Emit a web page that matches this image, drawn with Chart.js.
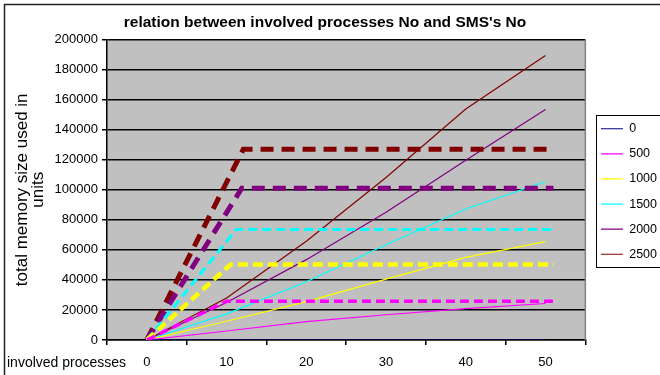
<!DOCTYPE html>
<html>
<head>
<meta charset="utf-8">
<script src="https://cdn.jsdelivr.net/npm/chart.js@4.4.0/dist/chart.umd.min.js"></script>
<style>
  html, body { margin: 0; padding: 0; background: #fff; }
  #wrap { width: 660px; height: 375px; position: relative; }
</style>
</head>
<body>
<div id="wrap"><canvas id="memChart"></canvas></div>
<script>
const processLabels = ['0', '10', '20', '30', '40', '50'];
const smsLabels = ['0', '500', '1000', '1500', '2000', '2500'];
const smsColors = ['#000080', '#ff00ff', '#ffff00', '#00ffff', '#800080', '#800000'];

const mem0 = [0, 0, 0, 0, 0, 0];
const mem500 = [0, 6000, 12200, 16800, 20900, 24300];
const mem1000 = [0, 12500, 25600, 40500, 55000, 65500];
const mem1500 = [0, 17400, 38800, 63400, 87200, 105500];
const mem2000 = [0, 25000, 53500, 85000, 119700, 153400];
const mem2500 = [0, 28000, 65700, 108200, 153800, 189400];

// thick dashed limit lines: where the limit is reached, the limit, where it stops
const limitColors = ['#ff00ff', '#ffff00', '#00ffff', '#800080', '#800000'];
const limitReachedAt = [10, 10.5, 11.2, 11.9, 12.1];
const limitValue = [25800, 50300, 73500, 101000, 127000];
const limitEndAt = [51, 51, 51, 51, 51];
const limitWidth = [3.5, 4.5, 3, 5, 5];
const limitDash = [[9, 5], [10, 5], [9, 5], [13, 8], [13, 8]];

const FONT = 'Liberation Sans, Arial, sans-serif';
const LEGEND_PAD = 12.6;
const memSeries = [mem0, mem500, mem1000, mem1500, mem2000, mem2500];

const limitSets = limitValue.map((v, i) => ({
  label: 'limit',
  xAxisID: 'xLin',
  data: [{x: 0, y: 0}, {x: limitReachedAt[i], y: v}, {x: limitEndAt[i], y: v}],
  borderColor: limitColors[i],
  borderWidth: limitWidth[i],
  borderDash: limitDash[i],
  borderCapStyle: 'butt',
  pointRadius: 0,
  fill: false
}));

const memSets = memSeries.map((d, i) => ({
  label: smsLabels[i],
  xAxisID: 'x',
  data: d,
  borderColor: smsColors[i],
  backgroundColor: smsColors[i],
  borderWidth: 1.2,
  pointRadius: 0,
  pointStyle: 'line',
  tension: 0,
  fill: false
}));

const frame = {
  id: 'frame',
  afterLayout(chart) {
    // nudge legend and title to where the original sits
    const lg = chart.legend;
    lg.left += 3;
    lg.right += 3;
    lg.top += 6;
    lg.bottom += 6;
    chart.titleBlock.left -= 11;
    chart.titleBlock.right -= 11;
  },
  beforeDraw(chart) {
    const {ctx, chartArea: a} = chart;
    ctx.save();
    ctx.fillStyle = '#c0c0c0';
    ctx.fillRect(a.left, a.top, a.right - a.left, a.bottom - a.top);
    ctx.restore();
  },
  afterDraw(chart) {
    const {ctx, chartArea: a} = chart;
    ctx.save();
    // right edge of plot
    ctx.strokeStyle = '#808080';
    ctx.lineWidth = 1.5;
    ctx.beginPath();
    ctx.moveTo(a.right, a.top);
    ctx.lineTo(a.right, a.bottom);
    ctx.stroke();
    // outer frame
    ctx.strokeStyle = '#222';
    ctx.beginPath();
    ctx.moveTo(4.5, 375);
    ctx.lineTo(4.5, 4.5);
    ctx.lineTo(660, 4.5);
    ctx.stroke();
    // legend box
    const boxes = chart.legend.legendHitBoxes;
    if (boxes.length) {
      const last = boxes[boxes.length - 1];
      const top = boxes[0].top - 8;
      const bottom = last.top + last.height + 6;
      const left = chart.legend.left + LEGEND_PAD - 5;
      ctx.strokeStyle = '#000';
      ctx.lineWidth = 1;
      ctx.strokeRect(Math.round(left) + 0.5, Math.round(top) + 0.5, 80, Math.round(bottom - top));
    }
    // x axis name on the tick label row
    const xs = chart.scales.x;
    ctx.fillStyle = '#000';
    ctx.font = '14px ' + FONT;
    ctx.textAlign = 'left';
    ctx.textBaseline = 'middle';
    ctx.fillText('involved processes', 7, xs.top + 23);
    ctx.restore();
  }
};

const ctx = document.getElementById('memChart').getContext('2d');
const memChart = new Chart(ctx, {
  type: 'line',
  data: {
    labels: processLabels,
    datasets: limitSets.concat(memSets)
  },
  plugins: [frame],
  options: {
    responsive: true,
    maintainAspectRatio: false,
    animation: false,
    layout: { padding: { left: 8, right: -4, top: 4, bottom: 8 } },
    plugins: {
      legend: {
        position: 'right',
        labels: {
          filter: item => item.text !== 'limit',
          usePointStyle: true,
          pointStyleWidth: 22,
          color: '#000',
          font: { family: FONT, size: 12.5 },
          padding: LEGEND_PAD
        }
      },
      title: {
        display: true,
        text: "relation between involved processes No and SMS's No",
        color: '#000',
        font: { family: FONT, size: 15.5, weight: 'bold' },
        padding: { top: 9, bottom: 8 }
      },
      tooltip: { enabled: false }
    },
    scales: {
      x: {
        type: 'category',
        offset: true,
        afterFit: scale => { scale.height = 27; },
        grid: { offset: true, drawOnChartArea: false, drawTicks: true, tickLength: 5, color: '#000', lineWidth: 1.5 },
        border: { color: '#000', width: 1.5 },
        ticks: { color: '#000', font: { family: FONT, size: 13 }, padding: 10, maxRotation: 0 }
      },
      xLin: {
        type: 'linear',
        display: false,
        min: -5,
        max: 55
      },
      y: {
        min: 0,
        max: 200000,
        afterFit: scale => { scale.width = 99; },
        grid: { color: '#000', lineWidth: 1.5, tickLength: 5 },
        border: { color: '#000', width: 1.5 },
        ticks: { stepSize: 20000, color: '#000', font: { family: FONT, size: 13 }, padding: 4, callback: v => String(v) },
        title: {
          display: true,
          text: ['total memory size used in', 'units'],
          color: '#000',
          font: { family: FONT, size: 17, lineHeight: 0.95 },
          padding: { top: 6, bottom: 0 }
        }
      }
    }
  }
});
</script>
</body>
</html>
